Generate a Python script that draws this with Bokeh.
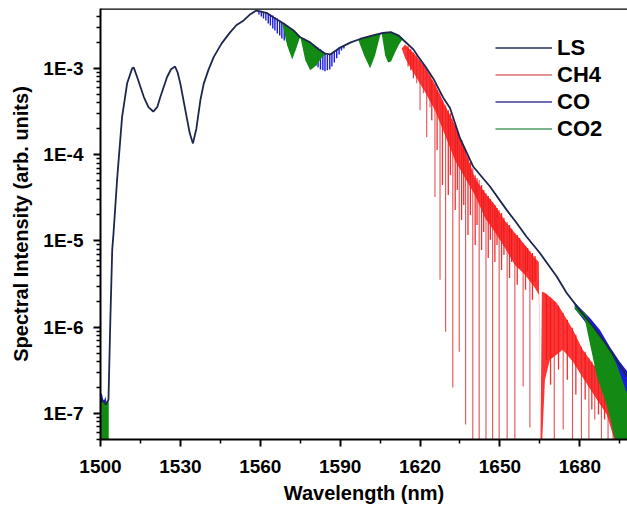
import numpy as np
from bokeh.plotting import figure
from bokeh.models import FixedTicker, CustomJSTickFormatter, Legend, LegendItem, Span
from bokeh.embed import file_html
from bokeh.resources import INLINE

FONT = "Liberation Sans"

# ---------------- data ----------------
# laser source (LS) envelope: wavelength (nm) / intensity (arb. units)
ls_x = [1500.0, 1502.0, 1503.0, 1503.7, 1504.4, 1504.9, 1506.3, 1508.1, 1510.0, 1511.9,
        1512.5, 1513.75, 1516.25, 1518.0, 1519.8, 1521.3, 1522.5, 1525.0, 1526.5, 1528.0,
        1529.0, 1530.0, 1531.9, 1533.5, 1534.7, 1536.0, 1537.5, 1538.75, 1540.5, 1542.5,
        1545.5, 1548.75, 1551.0, 1553.75, 1556.0, 1558.5, 1560.0, 1562.5, 1565.0, 1568.75,
        1572.5, 1575.0, 1578.75, 1581.5, 1584.4, 1586.25, 1588.0, 1590.0, 1594.0, 1597.5,
        1602.0, 1606.0, 1609.0, 1612.0, 1614.0, 1617.5, 1619.0, 1622.0, 1625.0, 1628.7,
        1631.25, 1635.0, 1640.0, 1646.25, 1652.5, 1656.0, 1660.0, 1665.0, 1671.25, 1675.0,
        1680.0, 1685.0, 1690.0, 1693.75, 1698.0]
ls_y = [1.53e-7, 1.27e-7, 1.45e-7, 1.23e-6, 7.87e-6, 1.24e-5, 5.50e-5, 2.72e-4, 6.71e-4, 1.00e-3,
        1.02e-3, 7.94e-4, 4.68e-4, 3.55e-4, 3.16e-4, 3.55e-4, 4.68e-4, 7.94e-4, 9.77e-4, 1.05e-3,
        8.91e-4, 6.61e-4, 3.24e-4, 1.78e-4, 1.35e-4, 2.00e-4, 4.27e-4, 6.61e-4, 9.55e-4, 1.35e-3,
        1.95e-3, 2.63e-3, 3.16e-3, 3.59e-3, 4.17e-3, 4.68e-3, 4.57e-3, 4.37e-3, 3.89e-3, 3.31e-3,
        2.75e-3, 2.29e-3, 2.00e-3, 1.70e-3, 1.48e-3, 1.45e-3, 1.58e-3, 1.74e-3, 2.00e-3, 2.19e-3,
        2.40e-3, 2.57e-3, 2.63e-3, 2.40e-3, 2.09e-3, 1.66e-3, 1.41e-3, 1.05e-3, 7.59e-4, 4.57e-4,
        3.47e-4, 1.55e-4, 7.24e-5, 4.27e-5, 2.29e-5, 1.66e-5, 1.12e-5, 7.24e-6, 3.89e-6, 2.51e-6,
        1.58e-6, 1.02e-6, 6.31e-7, 4.17e-7, 2.63e-7]

# CH4: dense absorption forest (upper / lower edge)
ch4_band_x = [1613.1, 1614.4, 1618.1, 1621.9, 1625.6, 1629.4, 1633.1, 1636.9, 1640.6, 1644.4,
              1648.1, 1651.9, 1655.6, 1659.4, 1663.1, 1664.6, 1665.2, 1665.75, 1666.9, 1668.75,
              1671.25, 1673.6, 1677.4, 1681.1, 1686.4, 1690.1, 1693.9, 1696.1, 1697.25]
ch4_band_top = [1.70e-3, 1.89e-3, 1.45e-3, 1.03e-3, 6.53e-4, 3.73e-4, 2.19e-4, 1.13e-4, 5.35e-5, 3.59e-5,
                2.61e-5, 1.70e-5, 1.24e-5, 8.99e-6, 6.35e-6, 5.71e-6, 4.0e-8, 2.57e-6, 2.51e-6, 2.25e-6,
                1.92e-6, 1.47e-6, 9.35e-7, 5.50e-7, 3.23e-7, 2.05e-7, 1.11e-7, 6.53e-8, 4.0e-8]
ch4_band_low = [1.70e-3, 1.31e-3, 8.30e-4, 5.28e-4, 3.27e-4, 1.68e-4, 8.63e-5, 5.35e-5, 3.40e-5, 1.85e-5,
                1.27e-5, 8.30e-6, 5.28e-6, 4.05e-6, 2.86e-6, 2.38e-6, 4.0e-8, 4.0e-8, 2.47e-7, 4.21e-7,
                4.81e-7, 5.50e-7, 3.99e-7, 2.61e-7, 1.45e-7, 9.73e-8, 4.0e-8, 4.0e-8, 4.0e-8]
# CH4: strong resolved lines
ch4_line_x = [1618.75, 1620.0, 1621.25, 1622.5, 1623.75, 1625.6, 1627.5, 1629.6, 1632.3, 1634.7,
              1637.1, 1639.8, 1642.2, 1644.75, 1647.25, 1649.7, 1652.7, 1655.6, 1658.7, 1661.25,
              1670.4, 1673.75, 1677.25, 1680.6, 1683.4, 1685.6, 1688.1, 1690.6, 1692.5]
ch4_line_top = [1.38e-3, 1.24e-3, 1.11e-3, 9.73e-4, 8.53e-4, 6.53e-4, 5.28e-4, 3.73e-4, 2.64e-4, 1.68e-4,
                1.13e-4, 6.98e-5, 5.07e-5, 3.59e-5, 2.82e-5, 2.28e-5, 1.66e-5, 1.24e-5, 9.49e-6, 7.65e-6,
                2.02e-6, 1.47e-6, 9.87e-7, 5.96e-7, 4.44e-7, 3.59e-7, 2.68e-7, 1.89e-7, 1.45e-7]
ch4_line_min = [6.71e-4, 3.27e-4, 5.14e-4, 1.59e-4, 3.54e-4, 3.23e-5, 3.54e-6, 8.87e-7, 2.00e-7, 5.21e-7,
                7.46e-8, 4.0e-8, 4.0e-8, 4.0e-8, 4.0e-8, 4.0e-8, 4.0e-8, 4.0e-8, 2.05e-7, 6.89e-8,
                4.0e-8, 6.53e-8, 4.0e-8, 4.0e-8, 4.0e-8, 8.53e-8, 4.0e-8, 4.0e-8, 4.0e-8]
# CH4: medium-strength lines of each manifold
ch4_mid_x = [1615.5, 1616.5, 1617.5, 1624.4, 1626.4, 1628.4, 1630.6, 1631.4, 1633.2, 1634.0,
             1635.6, 1636.4, 1638.0, 1638.9, 1640.7, 1641.4, 1643.1, 1643.9, 1645.6, 1646.4,
             1648.1, 1648.9, 1650.6, 1651.5, 1653.6, 1654.4, 1656.5, 1657.4, 1659.6, 1660.4,
             1662.2, 1663.2, 1667.5, 1669.0, 1672.0, 1675.3, 1678.5, 1682.0, 1684.5, 1687.0,
             1689.3]
ch4_mid_top = [1.80e-3, 1.66e-3, 1.53e-3, 7.27e-4, 5.57e-4, 4.27e-4, 3.27e-4, 3.02e-4, 2.19e-4, 1.87e-4,
               1.47e-4, 1.25e-4, 9.61e-5, 8.19e-5, 5.79e-5, 5.35e-5, 4.44e-5, 3.89e-5, 3.31e-5, 3.06e-5,
               2.61e-5, 2.41e-5, 2.11e-5, 1.85e-5, 1.53e-5, 1.38e-5, 1.17e-5, 1.08e-5, 8.75e-6, 8.30e-6,
               7.26e-6, 6.71e-6, 2.38e-6, 2.19e-6, 1.77e-6, 1.22e-6, 8.19e-7, 5.21e-7, 3.99e-7, 2.98e-7,
               2.28e-7]
ch4_mid_min = [1.05e-3, 9.48e-4, 7.66e-4, 2.51e-4, 1.13e-4, 4.44e-5, 3.40e-5, 5.79e-5, 2.28e-5, 3.89e-5,
               1.75e-5, 2.61e-5, 1.17e-5, 2.00e-5, 8.99e-6, 1.53e-5, 7.87e-6, 1.27e-5, 6.35e-6, 1.03e-5,
               5.71e-6, 8.99e-6, 4.62e-6, 6.89e-6, 3.73e-6, 5.71e-6, 3.10e-6, 4.88e-6, 2.72e-6, 4.38e-6,
               2.08e-6, 3.36e-6, 4.21e-7, 2.16e-7, 3.23e-7, 2.47e-7, 1.66e-7, 1.45e-7, 1.11e-7, 9.73e-8,
               8.53e-8]

# CO: resolved lines (1.56-1.59 um band) and noisy band edges
co_line_x = [1559.5, 1560.4, 1561.2, 1562.1, 1563.0, 1563.8, 1564.7, 1565.5, 1566.4, 1567.3,
             1568.1, 1569.0, 1569.9, 1570.7,
             1576.5, 1577.4, 1578.2, 1579.1, 1580.0, 1580.9, 1581.7, 1582.6, 1583.5, 1584.3,
             1585.2, 1586.1, 1586.9, 1587.8, 1588.7, 1589.6, 1590.5, 1591.4]
co_line_top = [4.56e-3, 4.56e-3, 4.44e-3, 4.44e-3, 4.32e-3, 4.21e-3, 4.10e-3, 3.89e-3, 3.78e-3, 3.59e-3,
               3.40e-3, 3.31e-3, 3.14e-3, 2.98e-3,
               2.22e-3, 2.11e-3, 2.05e-3, 1.95e-3, 1.89e-3, 1.80e-3, 1.75e-3, 1.66e-3, 1.57e-3, 1.49e-3,
               1.45e-3, 1.45e-3, 1.49e-3, 1.57e-3, 1.66e-3, 1.75e-3, 1.80e-3, 1.84e-3]
co_line_min = [4.21e-3, 3.99e-3, 3.78e-3, 3.59e-3, 3.31e-3, 3.14e-3, 2.90e-3, 2.75e-3, 2.54e-3, 2.41e-3,
               2.22e-3, 2.11e-3, 2.05e-3, 2.11e-3,
               1.84e-3, 1.61e-3, 1.41e-3, 1.31e-3, 1.17e-3, 1.08e-3, 1.03e-3, 9.73e-4, 9.48e-4, 9.23e-4,
               9.48e-4, 9.73e-4, 1.05e-3, 1.17e-3, 1.31e-3, 1.45e-3, 1.61e-3, 1.70e-3]
co_left_x = [1500.0, 1500.6, 1501.2, 1501.9, 1502.3]
co_left_top = [1.75e-7, 1.66e-7, 1.38e-7, 1.57e-7, 1.27e-7]
co_left_low = [4.0e-8, 4.0e-8, 4.0e-8, 4.0e-8, 4.0e-8]
co_right_x = [1678.1, 1683.75, 1687.5, 1691.25, 1695.0, 1697.9]
co_right_top = [1.92e-6, 1.29e-6, 9.35e-7, 5.96e-7, 3.99e-7, 3.06e-7]
co_right_low = [1.64e-6, 9.87e-7, 6.28e-7, 3.40e-7, 1.80e-7, 1.38e-7]

# CO2: band envelopes (upper / lower edge of the dense line comb)
co2_band_x = [1568.25, 1570.1, 1572.0, 1573.5, 1575.0, 1576.9, 1578.75, 1581.0, 1582.9, 1584.75,
              1596.75, 1599.0, 1601.25, 1603.1, 1605.0, 1605.6, 1606.9, 1608.0, 1609.1, 1610.6,
              1612.1, 1613.6]
co2_band_top = [3.31e-3, 3.06e-3, 2.82e-3, 2.61e-3, 2.34e-3, 2.16e-3, 2.00e-3, 1.75e-3, 1.57e-3, 1.49e-3,
                2.16e-3, 2.28e-3, 2.41e-3, 2.47e-3, 2.54e-3, 2.54e-3, 2.61e-3, 2.61e-3, 2.61e-3, 2.54e-3,
                2.41e-3, 2.22e-3]
co2_band_low = [3.31e-3, 1.84e-3, 1.27e-3, 1.70e-3, 2.34e-3, 1.24e-3, 9.48e-4, 1.08e-3, 1.31e-3, 1.49e-3,
                2.16e-3, 1.41e-3, 1.00e-3, 1.41e-3, 2.41e-3, 2.54e-3, 1.41e-3, 1.17e-3, 1.20e-3, 1.53e-3,
                1.89e-3, 2.22e-3]
co2_left_x = [1500.0, 1503.1]
co2_left_top = [1.34e-7, 1.38e-7]
co2_left_low = [4.0e-8, 4.0e-8]
co2_right_x = [1678.1, 1681.9, 1686.4, 1689.4, 1691.25, 1693.9, 1697.9]
co2_right_top = [1.77e-6, 1.47e-6, 8.63e-7, 6.79e-7, 5.50e-7, 3.68e-7, 1.66e-7]
co2_right_low = [1.64e-6, 1.22e-6, 2.68e-7, 1.45e-7, 9.23e-8, 4.0e-8, 4.0e-8]

# axes
x_ticks = [1500, 1530, 1560, 1590, 1620, 1650, 1680]
x_minor = [1515, 1545, 1575, 1605, 1635, 1665, 1695]
y_ticks = [1e-7, 1e-6, 1e-5, 1e-4, 1e-3]
y_minor = [m * 10.0 ** e for e in range(-8, -2) for m in range(2, 10)]

series_names = ["LS", "CH4", "CO", "CO2"]
legend_colors = ["#262b58", "#d9706f", "#3c3c96", "#4e9a66"]

RED = "#ff1010"
BLUE = "#1a1ae0"
GREEN = "#138a13"
LS_COLOR = "#1e2650"

X_END = 1697.9
Y_BOTTOM, Y_TOP = 5.0e-8, 4.94e-3

# ---------------- figure ----------------
p = figure(width=627, height=506, x_range=(1500, X_END), y_range=(Y_BOTTOM, Y_TOP),
           y_axis_type="log", output_backend="svg", toolbar_location=None,
           min_border_left=100, min_border_right=0, min_border_top=8, min_border_bottom=66)
p.outline_line_color = None
p.xgrid.visible = False
p.ygrid.visible = False
p.background_fill_color = "white"
p.border_fill_color = "white"

# CH4
p.varea(x=ch4_band_x, y1=ch4_band_low, y2=ch4_band_top, fill_color=RED, fill_alpha=0.85)
p.segment(x0=ch4_mid_x, y0=ch4_mid_top, x1=ch4_mid_x, y1=ch4_mid_min,
          line_color="#f01818", line_width=1.3, line_alpha=0.9)
p.segment(x0=ch4_line_x, y0=ch4_line_top, x1=ch4_line_x, y1=ch4_line_min,
          line_color="#e0242a", line_width=1.1, line_alpha=0.8)
# CO
p.segment(x0=co_line_x, y0=co_line_top, x1=co_line_x, y1=co_line_min,
          line_color=BLUE, line_width=1.4, line_alpha=1.0)
p.varea(x=co_left_x, y1=co_left_low, y2=co_left_top, fill_color=BLUE)
p.varea(x=co_right_x, y1=co_right_low, y2=co_right_top, fill_color=BLUE)
# CO2
p.varea(x=co2_band_x, y1=co2_band_low, y2=co2_band_top, fill_color=GREEN)
p.varea(x=co2_left_x, y1=co2_left_low, y2=co2_left_top, fill_color=GREEN)
p.varea(x=co2_right_x, y1=co2_right_low, y2=co2_right_top, fill_color=GREEN)
# LS envelope
p.line(ls_x, ls_y, line_color=LS_COLOR, line_width=1.8)

# top frame line
p.add_layout(Span(location=Y_TOP, dimension="width", line_color="black", line_width=2.5))

# legend (line samples; one hidden NaN point each so the sample is drawn)
items = []
for name, col in zip(series_names, legend_colors):
    r = p.line(x=[np.nan], y=[np.nan], line_color=col, line_width=1.3)
    items.append(LegendItem(label=name, renderers=[r]))
legend = Legend(items=items, location=(395, 297), glyph_width=57, glyph_height=27,
                label_height=27, spacing=0, padding=0, margin=0, label_standoff=5,
                border_line_color=None, background_fill_alpha=0,
                label_text_font=FONT, label_text_font_style="bold",
                label_text_font_size="22px", label_text_color="black")
p.add_layout(legend)

# bottom axis
xa = p.xaxis[0]
xa.ticker = FixedTicker(ticks=x_ticks, minor_ticks=x_minor)
xa.axis_label = "Wavelength (nm)"
# left axis
ya = p.yaxis[0]
ya.ticker = FixedTicker(ticks=y_ticks, minor_ticks=y_minor)
ya.formatter = CustomJSTickFormatter(code="return '1E' + Math.round(Math.log10(tick));")
ya.axis_label = "Spectral Intensity (arb. units)"

for ax in (xa, ya):
    ax.axis_line_width = 2
    ax.axis_line_color = "black"
    ax.major_tick_line_width = 2
    ax.minor_tick_line_width = 1.5
    ax.major_tick_out = 7
    ax.major_tick_in = 0
    ax.minor_tick_out = 4
    ax.minor_tick_in = 0
    ax.major_label_text_font = FONT
    ax.major_label_text_font_style = "bold"
    ax.major_label_text_font_size = "19px"
    ax.major_label_text_color = "black"
    ax.axis_label_text_font = FONT
    ax.axis_label_text_font_style = "bold"
    ax.axis_label_text_font_size = "20px"
    ax.axis_label_text_color = "black"
xa.major_label_standoff = 13
xa.axis_label_standoff = 6
ya.major_label_standoff = 10
ya.axis_label_standoff = 8

open("out.html", "w").write(file_html(p, INLINE))
